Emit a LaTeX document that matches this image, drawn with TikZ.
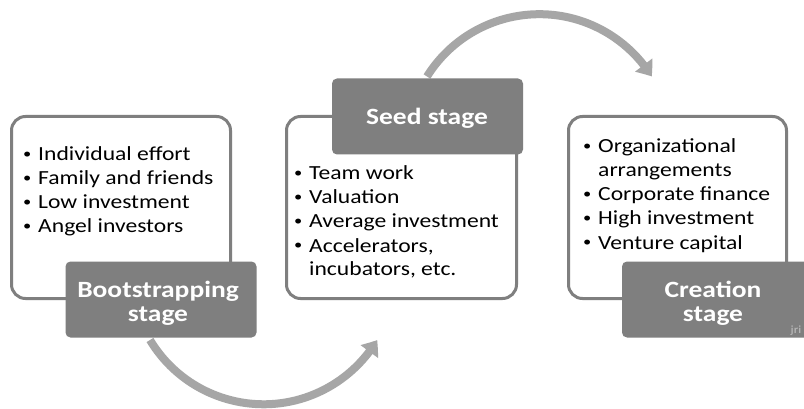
\documentclass[tikz,border=0pt]{standalone}
\usepackage{fontspec}
\setmainfont{Carlito}[FakeStretch=1.18]
\usetikzlibrary{arrows.meta,bending}
\definecolor{boxgray}{HTML}{7F7F7F}
\definecolor{arrgray}{HTML}{A6A6A6}
\definecolor{jrigray}{HTML}{BFBFBF}
\newcommand{\bul}{\llap{\makebox[15pt][l]{\raisebox{2.5pt}{\fontsize{14}{14}\selectfont •}}}}
\begin{document}
\begin{tikzpicture}[x=1pt,y=-1pt,
  content/.style={draw=boxgray,line width=3pt,fill=white,rounded corners=14pt,inner sep=0pt},
  stagebox/.style={fill=boxgray,rounded corners=5pt,inner sep=0pt,minimum width=191pt,minimum height=76pt},
  item/.style={anchor=base west,inner sep=0pt,font=\fontsize{20}{24}\selectfont},
  stagetext/.style={anchor=base,inner sep=0pt,text=white,font=\fontsize{23.3}{25}\selectfont\bfseries},
  cyclearrow/.style={draw=arrgray,line width=8pt,-{Triangle[width=21pt,length=14pt,bend]}}]
\clip (0,0) rectangle (804,409);
\fill[white] (0,0) rectangle (804,409);
% cycle arrows
\coordinate (a0) at (427,76.5);
\coordinate (b0) at (150,340);
\draw[cyclearrow] (a0) arc[start angle=-148, end angle=-32, radius=132.5];
\draw[cyclearrow] (b0) arc[start angle=149, end angle=31, radius=132.5];
% content boxes
\node[content,minimum width=219pt,minimum height=182pt] (box1) at (121,207.5) {};
\node[content,minimum width=230pt,minimum height=182pt] (box2) at (401.5,207.5) {};
\node[content,minimum width=218pt,minimum height=182pt] (box3) at (677.5,207.5) {};
% stage labels
\node[stagebox] (lab1) at (161,299.5) {};
\node[stagebox] (lab2) at (427.5,116.5) {};
\node[stagebox] (lab3) at (717.5,299.5) {};
\node[stagetext] (lab1a) at (158,297) {Bootstrapping};
\node[stagetext] (lab1b) at (158,321) {stage};
\node[stagetext] (lab2a) at (427,125) {Seed stage};
\node[stagetext] (lab3a) at (713,297) {Creation};
\node[stagetext] (lab3b) at (713,321) {stage};
% items box 1
\node[item] (i1a) at (38,161) {\bul Individual effort};
\node[item] (i1b) at (38,185) {\bul Family and friends};
\node[item] (i1c) at (38,209) {\bul Low investment};
\node[item] (i1d) at (38,233) {\bul Angel investors};
% items box 2
\node[item] (i2a) at (309,180) {\bul Team work};
\node[item] (i2b) at (309,204) {\bul Valuation};
\node[item] (i2c) at (309,228) {\bul Average investment};
\node[item] (i2d) at (309,252) {\bul Accelerators,};
\node[item] (i2e) at (309,276) {incubators, etc.};
% items box 3
\node[item] (i3a) at (598,153) {\bul Organizational};
\node[item] (i3b) at (598,177) {arrangements};
\node[item] (i3c) at (598,201) {\bul Corporate finance};
\node[item] (i3d) at (598,225) {\bul High investment};
\node[item] (i3e) at (598,249) {\bul Venture capital};
% signature
\node[anchor=base,inner sep=0pt,text=jrigray,font=\fontsize{11}{13}\selectfont] (sig) at (796,333) {jri};
\end{tikzpicture}
\end{document}
